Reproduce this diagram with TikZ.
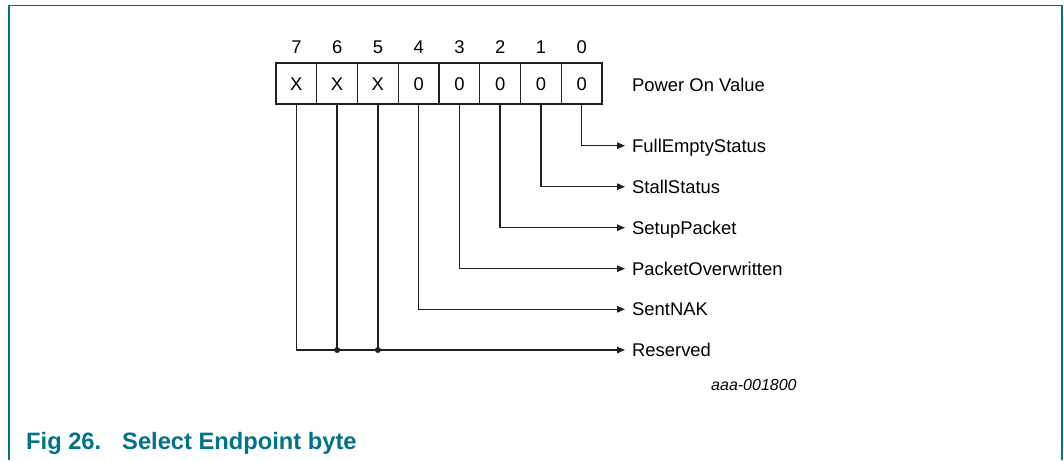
\documentclass[tikz,border=0pt]{standalone}
\usepackage{fontspec}
\setmainfont{Liberation Sans}
\usetikzlibrary{arrows.meta}
\definecolor{teal1}{RGB}{0,114,137}
\definecolor{ink}{RGB}{35,31,32}
\tikzset{
  cell/.style={draw=ink, line width=1.2pt, minimum width=40.75pt, minimum height=41pt, inner sep=0pt, font=\fontsize{18.4}{20}\selectfont, text height=13.2pt, text depth=0pt},
  bitnum/.style={inner sep=0pt, font=\fontsize{18.4}{20}\selectfont, text height=13.2pt, text depth=0pt},
  lab/.style={anchor=west, inner sep=0pt, inner xsep=7pt, font=\fontsize{18.4}{20}\selectfont, text height=13.2pt, text depth=0pt},
  conn/.style={draw=ink, line width=1.3pt},
  arr/.style={conn, -{Triangle[length=8pt,width=6.5pt]}},
  dot/.style={circle, fill=ink, inner sep=0pt, minimum size=6pt},
  frame/.style={draw=teal1, line width=1.8pt}
}
\begin{document}
\begin{tikzpicture}[x=1pt,y=-1pt]
\useasboundingbox (0,0) rectangle (1064,460);
% frame
\draw[frame] (9,460) -- (9,5.5) -- (1062,5.5) -- (1062,460);
% cells
\foreach \b/\v [count=\i from 0] in {7/X,6/X,5/X,4/0,3/0,2/0,1/0,0/0}{
  \node[cell] (c\b) at ({276+40.75*(\i+0.5)},83.5) {\v};
  \node[bitnum] (n\b) at ({276+40.75*(\i+0.5)},47) {\b};
}
\node[lab, inner xsep=0pt] (pov) at (632,85) {Power On Value};
% labels
\node[lab] (l0) at (625,145.7) {FullEmptyStatus};
\node[lab] (l1) at (625,186.7) {StallStatus};
\node[lab] (l2) at (625,227.7) {SetupPacket};
\node[lab] (l3) at (625,268.7) {PacketOverwritten};
\node[lab] (l4) at (625,309.3) {SentNAK};
\node[lab] (l5) at (625,350) {Reserved};
% connectors
\draw[arr] (c0.south) |- (l0.west);
\draw[arr] (c1.south) |- (l1.west);
\draw[arr] (c2.south) |- (l2.west);
\draw[arr] (c3.south) |- (l3.west);
\draw[arr] (c4.south) |- (l4.west);
\draw[arr] (c7.south) |- (l5.west);
\coordinate (j6) at (c6.south |- l5.west);
\coordinate (j5) at (c5.south |- l5.west);
\draw[conn] (c6.south) -- (j6);
\draw[conn] (c5.south) -- (j5);
\node[dot] (d6) at (j6) {};
\node[dot] (d5) at (j5) {};
% id
\node[anchor=west, inner sep=0pt, font=\fontsize{16}{18}\selectfont\itshape, text height=11.5pt, text depth=0pt] (id) at (711,385) {aaa-001800};
% caption
\node[anchor=west, inner sep=0pt, text=teal1, font=\fontsize{23.7}{26}\selectfont\bfseries, text height=17pt, text depth=0pt] (fig) at (26,440.5) {Fig 26.};
\node[anchor=west, inner sep=0pt, text=teal1, font=\fontsize{23.7}{26}\selectfont\bfseries, text height=17pt, text depth=0pt] (cap) at (122,440.5) {Select Endpoint byte};
\end{tikzpicture}
\end{document}
